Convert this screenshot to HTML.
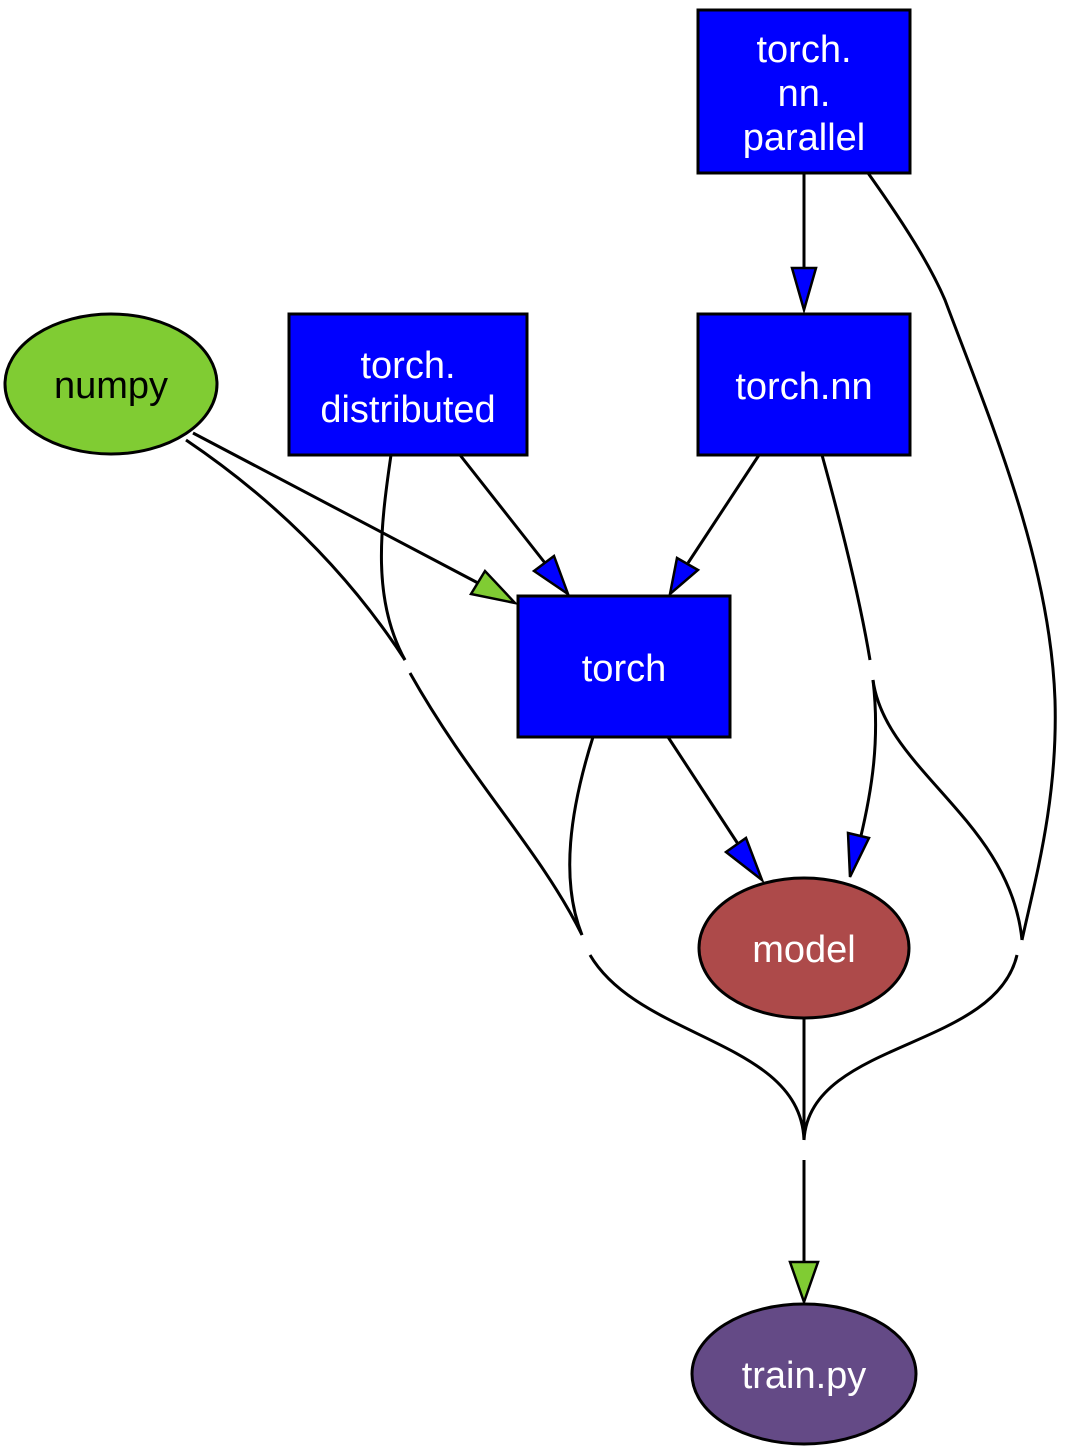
<!DOCTYPE html>
<html><head><meta charset="utf-8"><style>
html,body{margin:0;padding:0;background:#fff;}
svg{display:block}
text{font-family:"Liberation Sans",Arial,sans-serif;font-size:38px;text-anchor:middle;}
</style></head><body>
<svg width="1066" height="1454" viewBox="0 0 1066 1454" xmlns="http://www.w3.org/2000/svg">
<g fill="none" stroke="#000" stroke-width="3">
<line x1="804" y1="173" x2="804" y2="270"/>
<path d="M868,173 C905,225 930,265 945,300 C990,420 1050,560 1055,700 C1058,800 1035,880 1022,940"/>
<path d="M1017,955 C995,1050 810,1040 804,1140"/>
<line x1="193" y1="433" x2="478" y2="583"/>
<path d="M186,440 C260,490 340,560 405,660"/>
<path d="M410,673 C470,780 540,850 582,935"/>
<path d="M590,955 C640,1040 800,1040 804,1140"/>
<line x1="460" y1="455" x2="545" y2="563"/>
<path d="M391,455 C380,530 372,600 405,660"/>
<line x1="759" y1="455" x2="688" y2="563"/>
<path d="M822,455 C840,520 860,600 870,660"/>
<path d="M873,680 C880,740 872,790 860,840"/>
<path d="M873,680 C885,770 1010,820 1022,940"/>
<line x1="668" y1="737" x2="740" y2="847"/>
<path d="M593,737 C570,810 560,880 582,935"/>
<line x1="804" y1="1018" x2="804" y2="1140"/>
<line x1="804" y1="1160" x2="804" y2="1264"/>
</g>
<g stroke="#000" stroke-width="2.5">
<polygon points="792,268 816,268 804,310" fill="#0000ff"/>
<polygon points="471,594 485,571 515,603" fill="#80cc33"/>
<polygon points="534,571 554,556 568,594" fill="#0000ff"/>
<polygon points="677,558 698,570 670,594" fill="#0000ff"/>
<polygon points="848,833 869,838 850,877" fill="#0000ff"/>
<polygon points="726,852 746,838 762,880" fill="#0000ff"/>
<polygon points="790,1262 818,1262 804,1302" fill="#80cc33"/>
</g>
<g stroke="#000" stroke-width="3">
<rect x="698" y="10" width="212" height="163" fill="#0000ff"/>
<ellipse cx="111" cy="384" rx="106" ry="70" fill="#80cc33"/>
<rect x="289" y="314" width="238" height="141" fill="#0000ff"/>
<rect x="698" y="314" width="212" height="141" fill="#0000ff"/>
<rect x="518" y="596" width="212" height="141" fill="#0000ff"/>
<ellipse cx="804" cy="948" rx="105" ry="70" fill="#ad4a4a"/>
<ellipse cx="804" cy="1374" rx="112" ry="70" fill="#644a86"/>
</g>
<g fill="#fff">
<text x="804" y="62">torch.</text>
<text x="804" y="106">nn.</text>
<text x="804" y="150">parallel</text>
<text x="408" y="378">torch.</text>
<text x="408" y="422">distributed</text>
<text x="804" y="399">torch.nn</text>
<text x="624" y="681">torch</text>
<text x="804" y="962">model</text>
<text x="804" y="1388">train.py</text>
</g>
<text x="111" y="398" fill="#000">numpy</text>
</svg>
</body></html>
